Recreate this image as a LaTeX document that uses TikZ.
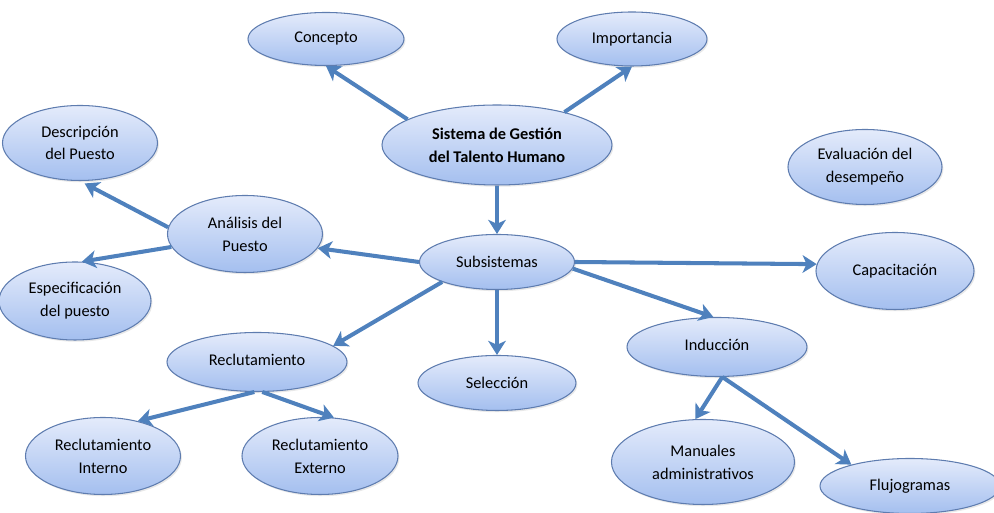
\documentclass[tikz,border=0pt]{standalone}
\usepackage{fontspec}
\setmainfont{Carlito}
\usetikzlibrary{arrows.meta,shapes.geometric,positioning,shadows}
\definecolor{bubbletop}{RGB}{228,235,251}
\definecolor{bubblebot}{RGB}{164,191,239}
\definecolor{bubbleline}{RGB}{94,124,175}
\definecolor{linkblue}{RGB}{79,129,189}
\tikzset{
    bubble/.style={ellipse, draw=bubbleline, line width=0.6pt,
        top color=bubbletop, bottom color=bubblebot, inner sep=0pt,
        align=center, font=\fontsize{9.3}{13}\selectfont,
        drop shadow={opacity=0.18, shadow xshift=0.8pt, shadow yshift=-1pt}},
    link/.style={draw=linkblue, line width=2.3pt,
        -{Stealth[length=8pt,width=10pt,inset=2.2pt]}},
}

\begin{document}
\begin{tikzpicture}[on grid]
    \useasboundingbox (-9.94,-5.02) rectangle (9.94,5.24);
    % centre
    \node[bubble, minimum width=3.1cm, minimum height=1.1cm] (sub) at (0,0) {Subsistemas};
    \node[bubble, minimum width=4.6cm, minimum height=1.6cm, above=2.34cm of sub] (sis)
        {\textbf{Sistema de Gestión}\\\textbf{del Talento Humano}};
    \node[bubble, minimum width=3.12cm, minimum height=1.06cm, above left=2.12cm and 3.42cm of sis] (con) {Concepto};
    \node[bubble, minimum width=3.0cm, minimum height=1.08cm, above right=2.12cm and 2.7cm of sis] (imp) {Importancia};
    % left
    \node[bubble, minimum width=3.1cm, minimum height=1.54cm, above left=0.56cm and 5.04cm of sub] (ana) {Análisis del\\Puesto};
    \node[bubble, minimum width=3.1cm, minimum height=1.5cm, above left=1.82cm and 3.3cm of ana] (des) {Descripción\\del Puesto};
    \node[bubble, minimum width=3.04cm, minimum height=1.56cm, below left=1.34cm and 3.4cm of ana] (esp) {Especificación\\del puesto};
    % right
    \node[bubble, minimum width=3.16cm, minimum height=1.54cm, below right=0.18cm and 7.96cm of sub] (cap) {Capacitación};
    \node[bubble, minimum width=3.08cm, minimum height=1.5cm, above left=2.08cm and 0.6cm of cap] (eva) {Evaluación del\\desempeño};
    % bottom
    \node[bubble, minimum width=3.16cm, minimum height=1.1cm, below=2.42cm of sub] (sel) {Selección};
    \node[bubble, minimum width=3.6cm, minimum height=1.18cm, below left=2.0cm and 4.8cm of sub] (rec) {\raisebox{3pt}{Reclutamiento}};
    \node[bubble, minimum width=3.1cm, minimum height=1.54cm, below left=1.88cm and 3.08cm of rec] (ri) {Reclutamiento\\Interno};
    \node[bubble, minimum width=3.12cm, minimum height=1.54cm, below right=1.88cm and 1.26cm of rec] (re) {Reclutamiento\\Externo};
    \node[bubble, minimum width=3.6cm, minimum height=1.18cm, below right=1.7cm and 4.4cm of sub] (ind) {\raisebox{3pt}{Inducción}};
    \node[bubble, minimum width=3.66cm, minimum height=1.7cm, below left=2.3cm and 0.28cm of ind] (man) {Manuales\\administrativos};
    \node[bubble, minimum width=3.6cm, minimum height=1.1cm, below right=2.78cm and 3.86cm of ind] (flu) {Flujogramas};

    % arrows
    \draw[link] (sis.164) -- (con.south);
    \draw[link] (sis.26) -- (imp.south);
    \draw[link] (sis) -- (sub);
    \draw[link] (sub.west) -- (ana.-11);
    \draw[link, shorten >=3pt] (ana.175) -- (des.south);
    \draw[link] (ana.190) -- (esp.80);
    \draw[link] (sub.east) -- (cap.175);
    \draw[link] (sub.-5) -- (ind.97);
    \draw[link] (sub) -- (sel);
    \draw[link] (sub.-160) -- (rec.12);
    \draw[link] (rec.265) -- (ri.45);
    \draw[link] (rec.280) -- (re.70);
    \draw[link] (ind.-80) -- (man.100);
    \draw[link] (ind.-80) -- (flu.160);
\end{tikzpicture}
\end{document}
